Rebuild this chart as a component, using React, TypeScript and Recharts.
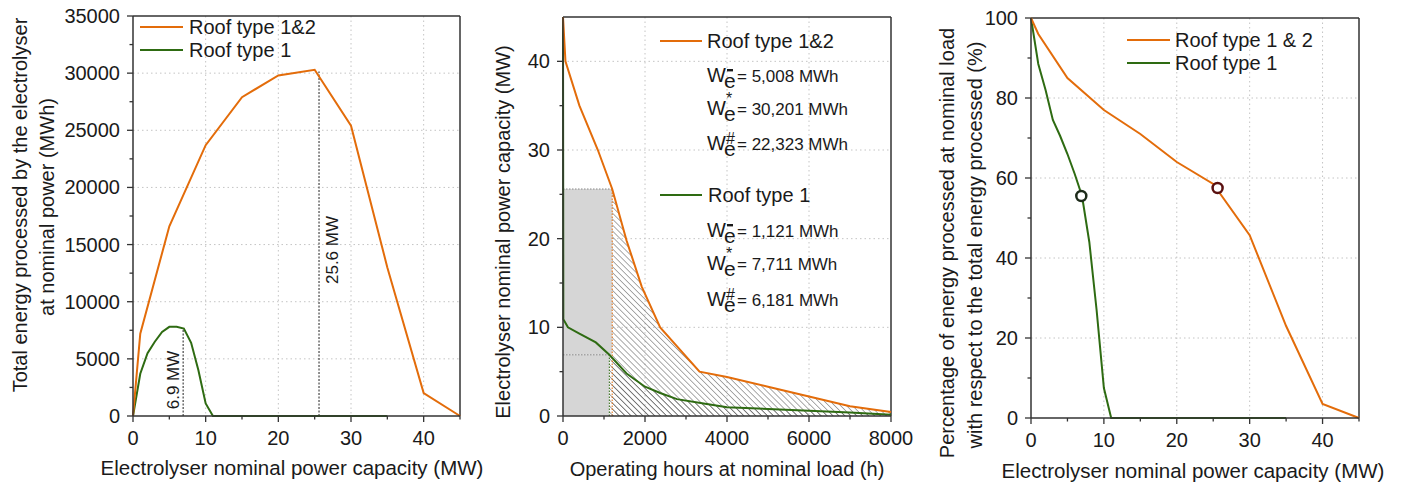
import React from 'react';
import {
  LineChart,
  ComposedChart,
  Line,
  Area,
  XAxis,
  YAxis,
  CartesianGrid,
  ReferenceLine,
  ReferenceArea,
  ReferenceDot,
  Customized,
} from 'recharts';

const ORANGE = '#E36C0A';
const GREEN = '#2E6B12';
const INK = '#1a1a1a';
const FONT = '"Liberation Sans", Arial, sans-serif';

// left panel: total energy at nominal power
const capRoof12 = [0, 1, 5, 10, 15, 20, 25, 30, 35, 40, 45];
const energyRoof12 = [0, 7200, 16600, 23700, 27900, 29800, 30300, 25400, 13000, 2000, 0];
const capRoof1 = [0, 1, 2, 3, 4, 5, 6, 7, 8, 9, 10, 11, 15, 20, 25, 30, 35];
const energyRoof1 = [0, 3700, 5500, 6500, 7350, 7800, 7800, 7650, 6400, 4000, 1100, 0, 0, 0, 0, 0, 0];
const optimumCap = [6.9, 25.6];
const optimumEnergy = [7700, 30150];

// middle panel: duration curves
const hoursRoof12 = [0, 60, 400, 850, 1200, 1550, 1920, 2370, 3330, 4000, 5000, 6000, 7000, 8000];
const powerRoof12 = [45, 40, 35, 30, 25.6, 19.8, 14.6, 10, 5, 4.4, 3.3, 2.2, 1.1, 0.45];
const hoursRoof1 = [0, 8, 120, 400, 800, 1130, 1550, 2000, 2370, 2780, 3430, 4000, 5000, 6000, 7000, 8000];
const powerRoof1 = [45, 10.9, 10, 9.3, 8.3, 6.9, 4.8, 3.3, 2.6, 1.9, 1.4, 1.0, 0.8, 0.6, 0.4, 0.15];
const optimumHours = [1130, 1200];

// right panel: share processed at nominal load
const pctCap12 = [0, 1, 5, 10, 15, 20, 25, 30, 35, 40, 45];
const pctRoof12 = [100, 96, 85, 77, 71, 64, 58.5, 45.7, 23, 3.5, 0];
const pctCap1 = [0, 1, 2, 3, 4, 5, 6, 7, 8, 9, 10, 11, 12, 35];
const pctRoof1 = [100, 88.5, 82, 74.5, 70.5, 66, 61, 55.5, 44, 27, 7.5, 0, 0, 0];
const optimumPct = [55.5, 57.5];

const zip = (xs: number[], ys: number[], kx = 'x', ky = 'y') =>
  xs.map((v, i) => ({ [kx]: v, [ky]: ys[i] }));

const xTick = (majors: number[]) => (p: any) => {
  const major = majors.includes(p.payload.value);
  const ay = p.y - 10;
  return (
    <g>
      <line x1={p.x} x2={p.x} y1={ay} y2={ay + (major ? 6 : 3.5)} stroke="#333" strokeWidth={1.3} />
      {major && (
        <text x={p.x} y={ay + 29} textAnchor="middle" fontSize={20} fill={INK} fontFamily={FONT}>
          {p.payload.value}
        </text>
      )}
    </g>
  );
};

const yTick = (majors: number[]) => (p: any) => {
  const major = majors.includes(p.payload.value);
  const ax = p.x + 10;
  return (
    <g>
      <line x1={ax} x2={ax - (major ? 6 : 3.5)} y1={p.y} y2={p.y} stroke="#333" strokeWidth={1.3} />
      {major && (
        <text x={ax - 13} y={p.y + 7} textAnchor="end" fontSize={20} fill={INK} fontFamily={FONT}>
          {p.payload.value}
        </text>
      )}
    </g>
  );
};

const T = (props: any) => <text fontFamily={FONT} fill={INK} fontSize={20} {...props} />;

const gridProps = { stroke: '#c4c4c4', strokeDasharray: '1.5 3' };
const axisLine = { stroke: '#333', strokeWidth: 1.5 };

function WLabel({ x, y, sup, text }: { x: number; y: number; sup: string; text: string }) {
  const supY = sup === '-' ? y - 11 : sup === '*' ? y - 11 : y - 6;
  return (
    <g>
      <T x={x} y={y} fontSize={20}>W</T>
      <T x={x + 17} y={y + 6} fontSize={21}>e</T>
      {sup === '-' ? (
        <rect x={x + 20} y={supY - 2} width={6} height={2.4} fill={INK} />
      ) : (
        <T x={x + 19} y={supY} fontSize={16}>{sup}</T>
      )}
      <T x={x + 30} y={y} fontSize={17}>{text}</T>
    </g>
  );
}

function LeftChart() {
  const d12 = zip(capRoof12, energyRoof12);
  const d1 = zip(capRoof1, energyRoof1);
  return (
    <LineChart width={470} height={488} margin={{ top: 16, right: 10, bottom: 12, left: 73 }}>
      <CartesianGrid {...gridProps} horizontalValues={[5000, 10000, 15000, 20000, 25000, 30000]} verticalValues={[10, 20, 30, 40]} />
      <XAxis type="number" dataKey="x" domain={[0, 45]} ticks={[0, 5, 10, 15, 20, 25, 30, 35, 40, 45]}
        interval={0} tickLine={false} tickSize={6} tickMargin={4} height={60} axisLine={axisLine} tick={xTick([0, 10, 20, 30, 40])} />
      <YAxis type="number" domain={[0, 35000]} ticks={Array.from({ length: 15 }, (_, i) => i * 2500)}
        interval={0} tickLine={false} tickSize={6} tickMargin={4} width={60} axisLine={axisLine}
        tick={yTick([0, 5000, 10000, 15000, 20000, 25000, 30000, 35000])} />
      <ReferenceLine y={35000} stroke="#333" strokeWidth={1.5} />
      <ReferenceLine x={45} stroke="#333" strokeWidth={1.5} />
      {optimumCap.map((c, i) => (
        <ReferenceLine key={c} segment={[{ x: c, y: 0 }, { x: c, y: optimumEnergy[i] }]} stroke="#222" strokeDasharray="2 1.5" strokeWidth={1} />
      ))}
      <Line data={d1} dataKey="y" stroke={GREEN} strokeWidth={2} dot={false} isAnimationActive={false} />
      <Line data={d12} dataKey="y" stroke={ORANGE} strokeWidth={2} dot={false} isAnimationActive={false} />
      <Customized component={() => (
        <g>
          <line x1={140} x2={183} y1={27} y2={27} stroke={ORANGE} strokeWidth={2} />
          <T x={189} y={34}>Roof type 1&amp;2</T>
          <line x1={140} x2={183} y1={50} y2={50} stroke={GREEN} strokeWidth={2} />
          <T x={189} y={57}>Roof type 1</T>
          <T x={0} y={0} fontSize={17} textAnchor="middle" transform="translate(179 380) rotate(-90)">6.9 MW</T>
          <T x={0} y={0} fontSize={17} textAnchor="middle" transform="translate(338 250) rotate(-90)">25.6 MW</T>
          <T x={0} y={0} textAnchor="middle" transform="translate(27 205) rotate(-90)">Total energy processed by the electrolyser</T>
          <T x={0} y={0} textAnchor="middle" transform="translate(54 207) rotate(-90)">at nominal power (MWh)</T>
          <T x={292} y={475} textAnchor="middle" fontSize={20.5}>Electrolyser nominal power capacity (MW)</T>
        </g>
      )} />
    </LineChart>
  );
}

function MiddleChart() {
  const d12 = zip(hoursRoof12, powerRoof12);
  const d1 = zip(hoursRoof1, powerRoof1);
  const hatch12 = d12.filter((p) => p.x >= optimumHours[1]);
  const hatch1 = d1.filter((p) => p.x >= optimumHours[0]);
  return (
    <ComposedChart width={430} height={488} margin={{ top: 17, right: 9, bottom: 12, left: 33 }}>
      <Customized component={() => (
        <defs>
          <pattern id="hatch" patternUnits="userSpaceOnUse" width="4.2" height="4.2" patternTransform="rotate(-45)">
            <line x1="0" y1="0" x2="0" y2="4.2" stroke="#555" strokeWidth="1" />
          </pattern>
        </defs>
      )} />
      <CartesianGrid {...gridProps} horizontalValues={[10, 20, 30, 40]} verticalValues={[2000, 4000, 6000]} />
      <XAxis type="number" dataKey="x" domain={[0, 8000]} ticks={[0, 1000, 2000, 3000, 4000, 5000, 6000, 7000, 8000]}
        interval={0} tickLine={false} tickSize={6} tickMargin={4} height={60} axisLine={axisLine} tick={xTick([0, 2000, 4000, 6000, 8000])} />
      <YAxis type="number" domain={[0, 45]} ticks={[0, 5, 10, 15, 20, 25, 30, 35, 40]}
        interval={0} tickLine={false} tickSize={6} tickMargin={4} width={60} axisLine={axisLine} tick={yTick([0, 10, 20, 30, 40])} />
      <ReferenceLine y={45} stroke="#333" strokeWidth={1.5} />
      <ReferenceLine x={8000} stroke="#333" strokeWidth={1.5} />
      <ReferenceArea x1={0} x2={optimumHours[1]} y1={optimumCap[0]} y2={optimumCap[1]} fill="#d6d6d6" fillOpacity={1} stroke="none" />
      <ReferenceArea x1={0} x2={optimumHours[0]} y1={0} y2={optimumCap[0]} fill="#d6d6d6" fillOpacity={1} stroke="none" />
      <Area data={hatch1} dataKey="y" type="linear" stroke="none" fill="url(#hatch)" fillOpacity={1} isAnimationActive={false} />
      <Area data={hatch12} dataKey="y" type="linear" stroke="none" fill="url(#hatch)" fillOpacity={1} isAnimationActive={false} />
      <ReferenceLine segment={[{ x: 0, y: optimumCap[1] }, { x: optimumHours[1], y: optimumCap[1] }]} stroke="#888" strokeDasharray="1.5 1.5" />
      <ReferenceLine segment={[{ x: optimumHours[1], y: 0 }, { x: optimumHours[1], y: optimumCap[1] }]} stroke={ORANGE} strokeDasharray="1.5 1.5" />
      <ReferenceLine segment={[{ x: 0, y: optimumCap[0] }, { x: optimumHours[0], y: optimumCap[0] }]} stroke="#888" strokeDasharray="1.5 1.5" />
      <ReferenceLine segment={[{ x: optimumHours[0], y: 0 }, { x: optimumHours[0], y: optimumCap[0] }]} stroke={GREEN} strokeDasharray="1.5 1.5" />
      <Line data={d1} dataKey="y" type="linear" stroke={GREEN} strokeWidth={2} dot={false} isAnimationActive={false} />
      <Line data={d12} dataKey="y" type="linear" stroke={ORANGE} strokeWidth={2} dot={false} isAnimationActive={false} />
      <Customized component={() => (
        <g>
          <line x1={190} x2={232} y1={41} y2={41} stroke={ORANGE} strokeWidth={2} />
          <T x={237} y={48}>Roof type 1&amp;2</T>
          <WLabel x={237} y={82} sup="-" text="= 5,008 MWh" />
          <WLabel x={237} y={115} sup="*" text="= 30,201 MWh" />
          <WLabel x={237} y={150} sup="#" text="= 22,323 MWh" />
          <line x1={190} x2={232} y1={195} y2={195} stroke={GREEN} strokeWidth={2} />
          <T x={238} y={202}>Roof type 1</T>
          <WLabel x={237} y={237} sup="-" text="= 1,121 MWh" />
          <WLabel x={237} y={270} sup="*" text="= 7,711 MWh" />
          <WLabel x={237} y={306} sup="#" text="= 6,181 MWh" />
          <T x={0} y={0} textAnchor="middle" transform="translate(40 232) rotate(-90)">Electrolyser nominal power capacity (MW)</T>
          <T x={257} y={476} textAnchor="middle">Operating hours at nominal load (h)</T>
        </g>
      )} />
    </ComposedChart>
  );
}

function RightChart() {
  const d12 = zip(pctCap12, pctRoof12);
  const d1 = zip(pctCap1, pctRoof1);
  return (
    <LineChart width={472} height={488} margin={{ top: 18, right: 43, bottom: 10, left: 41 }}>
      <CartesianGrid {...gridProps} horizontalValues={[20, 40, 60, 80]} verticalValues={[10, 20, 30, 40]} />
      <XAxis type="number" dataKey="x" domain={[0, 45]} ticks={[0, 5, 10, 15, 20, 25, 30, 35, 40, 45]}
        interval={0} tickLine={false} tickSize={6} tickMargin={4} height={60} axisLine={axisLine} tick={xTick([0, 10, 20, 30, 40])} />
      <YAxis type="number" domain={[0, 100]} ticks={[0, 10, 20, 30, 40, 50, 60, 70, 80, 90, 100]}
        interval={0} tickLine={false} tickSize={6} tickMargin={4} width={60} axisLine={axisLine} tick={yTick([0, 20, 40, 60, 80, 100])} />
      <ReferenceLine y={100} stroke="#333" strokeWidth={1.5} />
      <ReferenceLine x={45} stroke="#333" strokeWidth={1.5} />
      <Line data={d1} dataKey="y" stroke={GREEN} strokeWidth={2} dot={false} isAnimationActive={false} />
      <Line data={d12} dataKey="y" stroke={ORANGE} strokeWidth={2} dot={false} isAnimationActive={false} />
      <ReferenceDot x={optimumCap[0]} y={optimumPct[0]} r={5} fill="#fff" stroke="#1d2b1a" strokeWidth={2.5} />
      <ReferenceDot x={optimumCap[1]} y={optimumPct[1]} r={5} fill="#fff" stroke="#5a1010" strokeWidth={2.5} />
      <Customized component={() => (
        <g>
          <line x1={197} x2={240} y1={40} y2={40} stroke={ORANGE} strokeWidth={2} />
          <T x={245} y={47}>Roof type 1 &amp; 2</T>
          <line x1={197} x2={240} y1={63} y2={63} stroke={GREEN} strokeWidth={2} />
          <T x={245} y={70}>Roof type 1</T>
          <T x={0} y={0} textAnchor="middle" transform="translate(24 243) rotate(-90)">Percentage of energy processed at nominal load</T>
          <T x={0} y={0} textAnchor="middle" transform="translate(52 245) rotate(-90)">with respect to the total energy processed (%)</T>
          <T x={263} y={478} textAnchor="middle" fontSize={20.5}>Electrolyser nominal power capacity (MW)</T>
        </g>
      )} />
    </LineChart>
  );
}

export default function App() {
  return (
    <div style={{ position: 'absolute', left: 0, top: 0, width: 1402, height: 488, background: '#fff', fontFamily: FONT }}>
      <style>{'svg.recharts-surface{overflow:visible}'}</style>
      <div style={{ position: 'absolute', left: 0, top: 0 }}><LeftChart /></div>
      <div style={{ position: 'absolute', left: 470, top: 0 }}><MiddleChart /></div>
      <div style={{ position: 'absolute', left: 930, top: 0 }}><RightChart /></div>
    </div>
  );
}
